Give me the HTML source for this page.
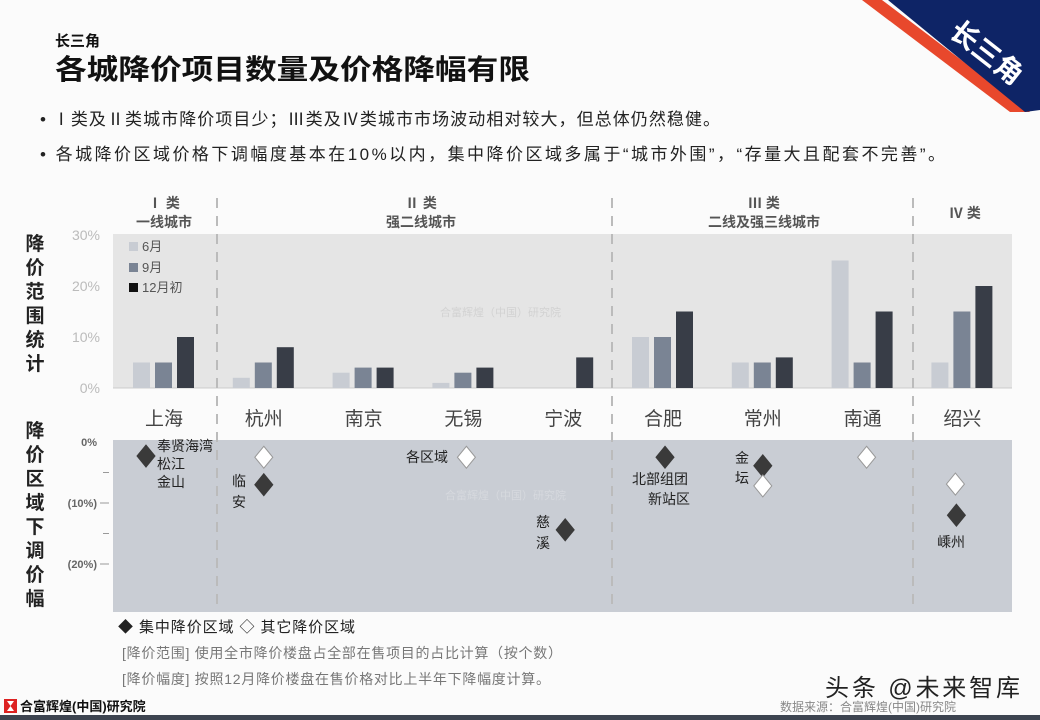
<!DOCTYPE html>
<html><head><meta charset="utf-8">
<style>
html,body{margin:0;padding:0;background:#fbfbfb;}
svg{display:block;font-family:"Liberation Sans","Noto Sans CJK SC",sans-serif;}
</style></head>
<body>
<svg id="s" width="1040" height="720" viewBox="0 0 1040 720" xmlns="http://www.w3.org/2000/svg">
<rect width="1040" height="720" fill="#fbfbfb"/>
<polygon points="862,0 1010,112 1030,112 882,0" fill="#e8482c"/>
<polygon points="888,0 1040,0 1040,110 1025,112" fill="#0e2466"/>
<text x="985" y="62" fill="#fff" font-size="28" font-weight="bold" text-anchor="middle" transform="rotate(38 985 55)">长三角</text>
<text x="55" y="46" font-size="15" font-weight="bold" fill="#111">长三角</text>
<text x="55" y="79" font-size="28" font-weight="bold" fill="#111" textLength="475" lengthAdjust="spacingAndGlyphs">各城降价项目数量及价格降幅有限</text>
<text x="40" y="125" font-size="17" fill="#222" textLength="680" lengthAdjust="spacing">• Ⅰ类及Ⅱ类城市降价项目少；Ⅲ类及Ⅳ类城市市场波动相对较大，但总体仍然稳健。</text>
<text x="40" y="160" font-size="17" fill="#222" textLength="905" lengthAdjust="spacing">• 各城降价区域价格下调幅度基本在10%以内，集中降价区域多属于“城市外围”，“存量大且配套不完善”。</text>
<rect x="113" y="234" width="899" height="154" fill="#e5e5e5"/>
<rect x="113" y="440" width="899" height="172" fill="#c9cdd4"/>
<line x1="113" y1="388" x2="1012" y2="388" stroke="#ccc"/>
<text x="440" y="316" font-size="11" fill="#d2d2d2">合富辉煌（中国）研究院</text>
<text x="445" y="499" font-size="11" fill="#d6d9de">合富辉煌（中国）研究院</text>
<g fill="#222" font-size="19" font-weight="bold" text-anchor="middle">
<text x="35" y="250">降</text>
<text x="35" y="274">价</text><text x="35" y="298">范</text><text x="35" y="322">围</text><text x="35" y="346">统</text><text x="35" y="370">计</text>
<text x="35" y="437">降</text><text x="35" y="461">价</text><text x="35" y="485">区</text><text x="35" y="509">域</text><text x="35" y="533">下</text><text x="35" y="557">调</text><text x="35" y="581">价</text><text x="35" y="605">幅</text>
</g>
<g id="groupHdr" font-size="14" font-weight="bold" fill="#555" text-anchor="middle">
<text x="164" y="208">Ⅰ 类</text><text x="164" y="227">一线城市</text>
<text x="421" y="208">Ⅱ 类</text><text x="421" y="227">强二线城市</text>
<text x="764" y="208">Ⅲ 类</text><text x="764" y="227">二线及强三线城市</text>
<text x="965" y="218">Ⅳ 类</text>
</g>
<g id="legend1" font-size="13" fill="#555">
<rect x="129" y="242" width="9" height="9" fill="#c8ccd3"/><text x="142" y="251">6月</text>
<rect x="129" y="263" width="9" height="9" fill="#7a8494"/><text x="142" y="272">9月</text>
<rect x="129" y="283" width="9" height="9" fill="#111"/><text x="142" y="292">12月初</text>
</g>
<g id="bars"></g>
<g id="marks"></g>
<text x="118" y="632" font-size="15" fill="#222" textLength="237" lengthAdjust="spacing">◆ 集中降价区域 ◇ 其它降价区域</text>
<text x="122" y="658" font-size="14" fill="#777" textLength="440" lengthAdjust="spacing">[降价范围]  使用全市降价楼盘占全部在售项目的占比计算（按个数）</text>
<text x="122" y="684" font-size="14" fill="#777" textLength="428" lengthAdjust="spacing">[降价幅度]  按照12月降价楼盘在售价格对比上半年下降幅度计算。</text>
<rect x="4" y="699" width="13" height="14" fill="#d22"/>
<polygon points="7,701 14,701 10.5,706 14,711 7,711 10.5,706" fill="#fff"/>
<text x="20" y="711" font-size="13" font-weight="bold" fill="#111">合富辉煌(中国)研究院</text>
<rect x="0" y="715" width="1040" height="5" fill="#3d4450"/>
<text x="780" y="711" font-size="12" fill="#888">数据来源：合富辉煌(中国)研究院</text>
<text x="825" y="696" font-size="24" fill="#222" textLength="195" lengthAdjust="spacing">头条 @未来智库</text>
</svg>
<script>
const cities=["上海","杭州","南京","无锡","宁波","合肥","常州","南通","绍兴"];
const jun=[5,2,3,1,0,10,5,25,5];
const sep=[5,5,4,3,0,10,5,5,15];
const dec=[10,8,4,4,6,15,6,15,20];
const yTicks=[0,10,20,30];
const dropTicks=[0,-10,-20];
const dropTickLabels=["0%","(10%)","(20%)"];
const ptCity=[0,1,1,3,4,5,6,6,7,8,8];
const ptVal=[-2.3,-2.5,-7,-2.5,-14.4,-2.5,-3.9,-7.2,-2.5,-6.9,-12];
const ptFilled=[1,0,1,0,1,1,1,0,0,0,1];
const ptXOff=[-18,0,0,3,2,2,0,0,4,-7,-6];

const NS="http://www.w3.org/2000/svg";
const svg=document.getElementById('s');
function mk(t,a,p){const e=document.createElementNS(NS,t);for(const k in a)e.setAttribute(k,a[k]);(p||svg).appendChild(e);return e;}
const cx=i=>164+i*99.8;
const yb=v=>388-v*5.1;
const yd=v=>442-v*6.1;
[217,612,913].forEach(x=>{
 const l=mk('line',{x1:x,y1:198,x2:x,y2:612,stroke:'#bbb','stroke-width':2,'stroke-dasharray':'10,8'});
 
 
});
yTicks.forEach(v=>{
 const t=mk('text',{x:100,y:yb(v)+5,'font-size':14,fill:'#bbb','text-anchor':'end'});t.textContent=v+'%';
 
 
});
dropTicks.forEach((v,i)=>{
 const t=mk('text',{x:97,y:yd(v)+4,'font-size':11,'font-weight':'bold',fill:'#666','text-anchor':'end'});t.textContent=dropTickLabels[i];
 
 
});
[-5,-15].forEach(v=>{mk('line',{x1:103,y1:yd(v),x2:109,y2:yd(v),stroke:'#999'});});
dropTicks.slice(1).forEach(v=>{mk('line',{x1:100,y1:yd(v),x2:109,y2:yd(v),stroke:'#999'});});
const bg=document.getElementById('bars');
const series=[[jun,'#c8ccd3'],[sep,'#7a8494'],[dec,'#383d47']];
cities.forEach((c,i)=>{
 series.forEach((s,j)=>{
  const v=s[0][i];
  const r=mk('rect',{x:cx(i)-31+j*22,y:yb(v),width:17,height:v*5.1,fill:s[1]},bg);
  
  
 });
 const t=mk('text',{x:cx(i),y:425,'font-size':19,fill:'#444','text-anchor':'middle'});t.textContent=c;
 
 
});
const mg=document.getElementById('marks');
ptVal.forEach((v,i)=>{
 const x=cx(ptCity[i])+ptXOff[i],y=yd(v);
 const p=mk('polygon',{points:`${x},${y-11} ${x+9},${y} ${x},${y+11} ${x-9},${y}`,fill:ptFilled[i]?'#3a3a3a':'#fff',stroke:ptFilled[i]?'#3a3a3a':'#999','stroke-width':1},mg);
 
 
});
const labels=[[157,451,'奉贤海湾'],[157,469,'松江'],[157,487,'金山'],[232,486,'临'],[232,507,'安'],[406,462,'各区域'],[536,527,'慈'],[536,548,'溪'],[632,484,'北部组团'],[648,504,'新站区'],[735,463,'金'],[735,483,'坛'],[937,547,'嵊州']];
labels.forEach(l=>{
 const t=mk('text',{x:l[0],y:l[1],'font-size':14,fill:'#222'},mg);t.textContent=l[2];
 
 
});
</script>
</body></html>
